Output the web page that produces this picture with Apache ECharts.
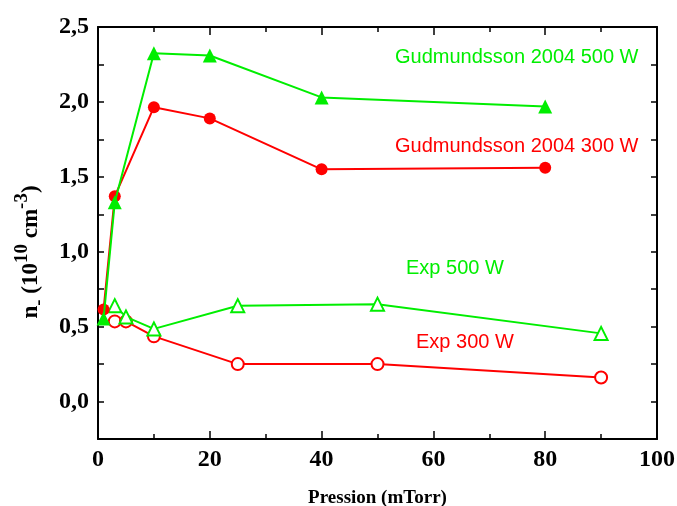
<!DOCTYPE html>
<html>
<head>
<meta charset="utf-8">
<script src="https://cdn.jsdelivr.net/npm/echarts@6/dist/echarts.min.js"></script>
<style>html,body{margin:0;padding:0;background:#fff}#c{width:677px;height:506px}</style>
</head>
<body>
<div id="c"></div>
<script>
// Data
const gud500X = [1, 3, 10, 20, 40, 80];
const gud500Y = [0.555, 1.33, 2.325, 2.31, 2.03, 1.97];
const gud300X = [1, 3, 10, 20, 40, 80];
const gud300Y = [0.615, 1.37, 1.965, 1.89, 1.55, 1.56];
const exp500X = [3, 5, 10, 25, 50, 90];
const exp500Y = [0.64, 0.565, 0.485, 0.64, 0.65, 0.455];
const exp300X = [3, 5, 10, 25, 50, 90];
const exp300Y = [0.535, 0.535, 0.435, 0.25, 0.25, 0.16];
const xTicks = [0, 20, 40, 60, 80, 100];
const yTickLabels = ['0,0', '0,5', '1,0', '1,5', '2,0', '2,5'];

const GREEN = '#00ee00';
const RED = '#ff0000';
const pair = (xs, ys) => xs.map((x, i) => [x, ys[i]]);

const chart = echarts.init(document.getElementById('c'));
const tickStyle = {lineStyle: {color: '#000', width: 1.5}};
const axisLine = {show: true, onZero: false, lineStyle: {color: '#000', width: 2}};
const serifBold = {fontFamily: 'Liberation Serif', fontWeight: 'bold', fontSize: 24, color: '#000'};

function yLabel(v) {
  const k = Math.round(v * 100);
  if (k % 50 !== 0) return '';
  return yTickLabels[k / 50] || '';
}

const nameRich = {
  n: {fontFamily: 'Liberation Serif', fontWeight: 'bold', fontSize: 23, fill: '#000', lineHeight: 36, verticalAlign: 'middle'},
  sub: {fontFamily: 'Liberation Serif', fontWeight: 'bold', fontSize: 19, fill: '#000', lineHeight: 19, verticalAlign: 'bottom'},
  sup: {fontFamily: 'Liberation Serif', fontWeight: 'bold', fontSize: 19, fill: '#000', lineHeight: 19, verticalAlign: 'top'}
};

chart.setOption({
  animation: false,
  backgroundColor: '#fff',
  grid: {left: 98, right: 20, top: 27, bottom: 67, containLabel: false, outerBoundsMode: 'none'},
  xAxis: [{
    type: 'value', min: 0, max: 100, interval: 20,
    axisLine: axisLine,
    axisTick: {show: true, inside: true, length: 8, ...tickStyle},
    minorTick: {show: true, splitNumber: 2, length: 5, lineStyle: {color: '#000', width: 1.5}},
    splitLine: {show: false},
    axisLabel: {...serifBold, margin: 9, formatter: v => xTicks.includes(v) ? String(v) : ''},
    name: 'Pression (mTorr)', nameLocation: 'middle', nameGap: 50,
    nameTextStyle: {fontFamily: 'Liberation Serif', fontWeight: 'bold', fontSize: 19, color: '#000'}
  }, {
    type: 'value', min: 0, max: 100, interval: 20, position: 'top',
    axisLine: axisLine,
    axisTick: {show: true, inside: true, length: 8, ...tickStyle},
    minorTick: {show: true, splitNumber: 2, length: 5, lineStyle: {color: '#000', width: 1.5}},
    splitLine: {show: false}, axisLabel: {show: false}
  }],
  yAxis: [{
    type: 'value', min: -0.25, max: 2.5, interval: 0.25,
    axisLine: axisLine,
    axisTick: {show: true, inside: true, length: 6, ...tickStyle},
    splitLine: {show: false},
    axisLabel: {...serifBold, margin: 9, formatter: yLabel}
  }, {
    type: 'value', min: -0.25, max: 2.5, interval: 0.25, position: 'right',
    axisLine: axisLine,
    axisTick: {show: true, inside: true, length: 6, ...tickStyle},
    splitLine: {show: false}, axisLabel: {show: false}
  }],
  graphic: [
    {type: 'text', x: 31, y: 252, rotation: Math.PI / 2,
     style: {text: '{n|n}{sub|-}{n| (10}{sup|10}{n| cm}{sup|-3}{n|)}', rich: nameRich, align: 'center', verticalAlign: 'middle'}},
    {type: 'text', left: 395, top: 47, style: {text: 'Gudmundsson 2004 500 W', fill: GREEN, font: '20px "Liberation Sans"'}},
    {type: 'text', left: 395, top: 136, style: {text: 'Gudmundsson 2004 300 W', fill: RED, font: '20px "Liberation Sans"'}},
    {type: 'text', left: 406, top: 258, style: {text: 'Exp 500 W', fill: GREEN, font: '20px "Liberation Sans"'}},
    {type: 'text', left: 416, top: 332, style: {text: 'Exp 300 W', fill: RED, font: '20px "Liberation Sans"'}}
  ],
  series: [
    {type: 'line', data: pair(exp300X, exp300Y), symbol: 'emptyCircle', symbolSize: 12,
     lineStyle: {color: RED, width: 2}, itemStyle: {color: RED, borderWidth: 1.2}, z: 2},
    {type: 'line', data: pair(exp500X, exp500Y), symbol: 'emptyTriangle', symbolSize: 13,
     lineStyle: {color: GREEN, width: 2}, itemStyle: {color: GREEN, borderWidth: 1.2}, z: 3},
    {type: 'line', data: pair(gud300X, gud300Y), symbol: 'circle', symbolSize: 12,
     lineStyle: {color: RED, width: 2}, itemStyle: {color: RED}, z: 4},
    {type: 'line', data: pair(gud500X, gud500Y), symbol: 'triangle', symbolSize: 14,
     lineStyle: {color: GREEN, width: 2}, itemStyle: {color: GREEN}, z: 5}
  ]
});
</script>
</body>
</html>
